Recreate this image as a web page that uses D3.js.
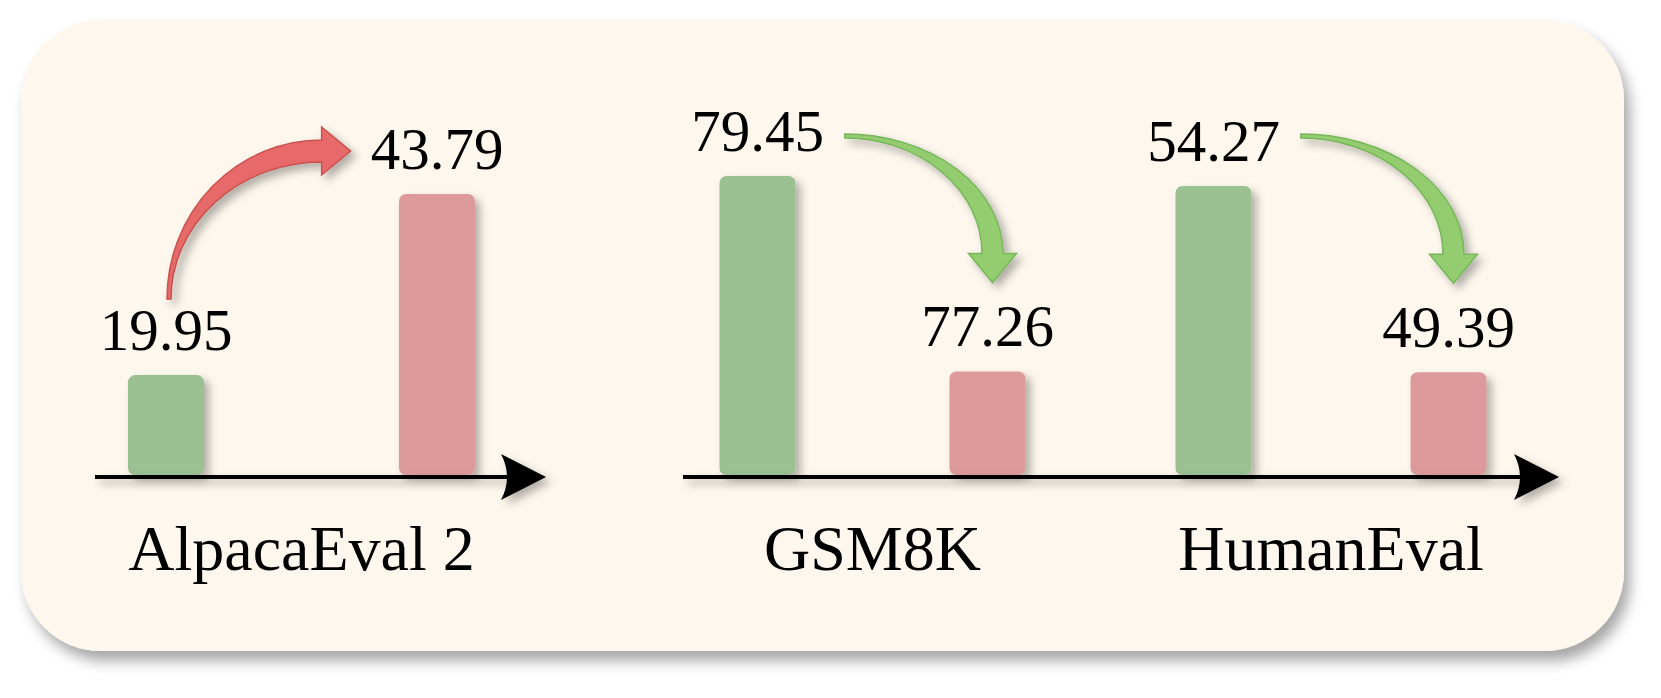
<!DOCTYPE html>
<html>
<head>
<meta charset="utf-8">
<script src="https://cdn.jsdelivr.net/npm/d3@7"></script>
<style>
  body { margin: 0; background: #fff; }
  text { font-family: "Liberation Serif", "Times New Roman", serif; fill: #000; }
</style>
</head>
<body>
<script>
const WIDTH = 1661;
const HEIGHT = 698;

// benchmarks and scores, before -> after
const BENCHMARKS = ["AlpacaEval 2", "GSM8K", "HumanEval"];
const BEFORE = [19.95, 79.45, 54.27];
const AFTER = [43.79, 77.26, 49.39];
// schematic value where each benchmark's bars start (axis is not at zero)
const AXIS_FLOOR = [6.8, 76.1, 46.7];
const PANEL_OF = [0, 1, 1];

// layout
const BASE_Y = 475;
const AXIS_Y = 477;
const PANELS = [[95, 546], [683, 1559]];
const GROUP_X = [[166, 437], [757.5, 987.5], [1213.5, 1448.5]];
const GROUP_TOP = [194, 176, 186];
const BAR_W = 76;
const GREEN = "#9bc192";
const RED = "#dc9b9a";

const svg = d3.select("body")
              .append("svg")
              .attr("width", WIDTH)
              .attr("height", HEIGHT);

const defs = svg.append("defs");

const addShadow = (id, dx, dy, sd, op) => {
  defs.append("filter")
      .attr("id", id)
      .attr("x", "-30%").attr("y", "-30%")
      .attr("width", "160%").attr("height", "160%")
      .append("feDropShadow")
      .attr("dx", dx).attr("dy", dy)
      .attr("stdDeviation", sd)
      .attr("flood-color", "#000")
      .attr("flood-opacity", op);
};
addShadow("cardShadow", 6, 10, 7, 0.35);
addShadow("soft", 5, 5, 4, 0.3);

//the card
svg.append("rect")
   .attr("x", 21).attr("y", 20)
   .attr("width", 1603).attr("height", 631)
   .attr("rx", 80)
   .attr("fill", "#fdf7ed")
   .attr("filter", "url(#cardShadow)");

//the scales, one pair per benchmark
const scales = (i) => {
  const xScale = d3.scalePoint()
                   .domain(["before", "after"])
                   .range(GROUP_X[i]);
  const yScale = d3.scaleLinear()
                   .domain([AXIS_FLOOR[i], Math.max(BEFORE[i], AFTER[i])])
                   .range([BASE_Y, GROUP_TOP[i]]);
  return [xScale, yScale];
};

const groups = BENCHMARKS.map((name, i) => ({
  name, i,
  bars: [{ key: "before", value: BEFORE[i], color: GREEN },
         { key: "after", value: AFTER[i], color: RED }]
}));

//bars
groups.forEach(g => {
  const [xScale, yScale] = scales(g.i);
  svg.append("g")
     .attr("filter", "url(#soft)")
     .selectAll("rect")
     .data(g.bars)
     .enter()
     .append("rect")
     .attr("x", d => xScale(d.key) - BAR_W / 2)
     .attr("y", d => yScale(d.value))
     .attr("width", BAR_W)
     .attr("height", d => BASE_Y - yScale(d.value))
     .attr("rx", 7)
     .attr("fill", d => d.color);
});

//the axes
PANELS.forEach(([x0, x1]) => {
  const ax = svg.append("g").attr("filter", "url(#soft)");
  ax.append("line")
    .attr("x1", x0).attr("x2", x1 - 34)
    .attr("y1", AXIS_Y).attr("y2", AXIS_Y)
    .attr("stroke", "#000")
    .attr("stroke-width", 4);
  ax.append("path")
    .attr("d", `M${x1},${AXIS_Y} L${x1 - 45},${AXIS_Y - 23} Q${x1 - 33},${AXIS_Y} ${x1 - 45},${AXIS_Y + 23} Z`)
    .attr("fill", "#000");
});

//value labels
const labelNodes = {};
groups.forEach(g => {
  const [xScale, yScale] = scales(g.i);
  g.bars.forEach(d => {
    labelNodes[g.i + d.key] = svg.append("text")
       .attr("x", xScale(d.key))
       .attr("y", yScale(d.value) - 25)
       .attr("text-anchor", "middle")
       .attr("font-size", 59)
       .text(d.value.toFixed(2));
  });
  //benchmark name
  svg.append("text")
     .attr("x", (xScale("before") + xScale("after")) / 2)
     .attr("y", 570)
     .attr("text-anchor", "middle")
     .attr("font-size", 64)
     .text(g.name);
});

//curved arrows
const upRightArrow = (tx, ty, px, py) => {
  const hb = px - 29;
  const rxO = hb - (tx - 2), ryO = ty - (py - 11);
  const rxI = hb - (tx + 2), ryI = ty - (py + 11);
  return `M${tx - 2},${ty} A${rxO},${ryO} 0 0 1 ${hb},${py - 11} L${hb},${py - 24} L${px},${py} ` +
         `L${hb},${py + 24} L${hb},${py + 11} A${rxI},${ryI} 0 0 0 ${tx + 2},${ty} Z`;
};

const rightDownArrow = (tx, ty, px, py) => {
  const hb = py - 29;
  const rxO = px + 10.5 - tx, ryO = hb - (ty - 2);
  const rxI = px - 10.5 - tx, ryI = hb - (ty + 2);
  return `M${tx},${ty - 2} A${rxO},${ryO} 0 0 1 ${px + 10.5},${hb} L${px + 24},${hb} L${px},${py} ` +
         `L${px - 24},${hb} L${px - 10.5},${hb} A${rxI},${ryI} 0 0 0 ${tx},${ty + 2} Z`;
};

const arrows = svg.append("g").attr("filter", "url(#soft)");
groups.forEach(g => {
  const [xScale, yScale] = scales(g.i);
  const beforeLabel = labelNodes[g.i + "before"].node();
  const afterLabel = labelNodes[g.i + "after"].node();
  if (AFTER[g.i] > BEFORE[g.i]) {
    const tx = xScale("before") + 3;
    const ty = yScale(BEFORE[g.i]) - 25 - 51;
    const px = xScale("after") - afterLabel.getComputedTextLength() / 2 - 20;
    const py = yScale(AFTER[g.i]) - 25 - 18;
    arrows.append("path")
          .attr("d", upRightArrow(tx, ty, px, py))
          .attr("fill", "#e8696a")
          .attr("stroke", "#c8524f")
          .attr("stroke-width", 1.5);
  } else {
    // same height for all arrows in the panel
    const panelTop = d3.min(groups.filter(o => PANEL_OF[o.i] === PANEL_OF[g.i]),
                            o => scales(o.i)[1](BEFORE[o.i]));
    const tx = xScale("before") + beforeLabel.getComputedTextLength() / 2 + 21;
    const ty = panelTop - 40;
    const px = xScale("after") + 5;
    const py = yScale(AFTER[g.i]) - 89;
    arrows.append("path")
          .attr("d", rightDownArrow(tx, ty, px, py))
          .attr("fill", "#93cd70")
          .attr("stroke", "#78b55b")
          .attr("stroke-width", 1.5);
  }
});
</script>
</body>
</html>
